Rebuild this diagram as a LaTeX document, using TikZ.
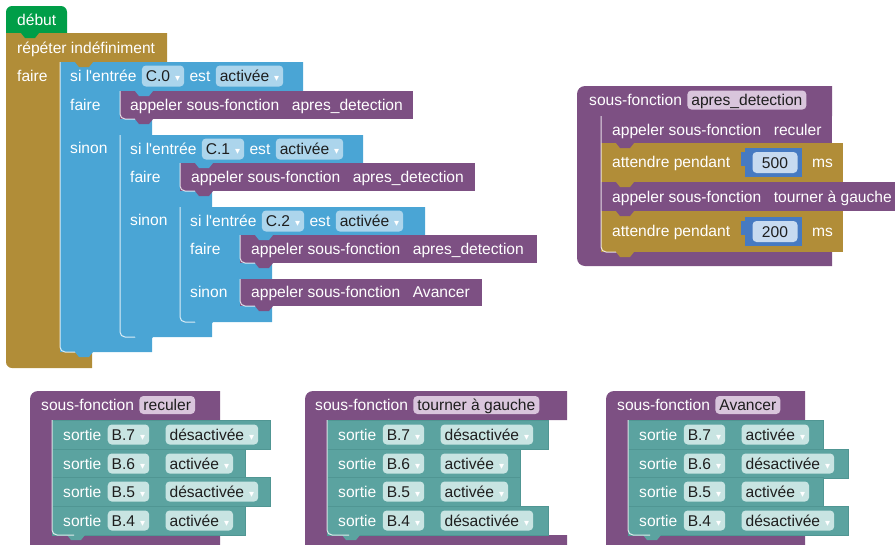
\documentclass[tikz,border=0pt]{standalone}
\usepackage{fontspec}
\setmainfont{Liberation Sans}
\newfontfamily\symfont{DejaVu Sans}
\usetikzlibrary{positioning}

\definecolor{debutgreen}{RGB}{0,158,72}
\definecolor{loopgold}{RGB}{177,141,56}
\definecolor{ifblue}{RGB}{74,165,213}
\definecolor{ifbluefield}{RGB}{172,213,236}
\definecolor{procpurple}{RGB}{125,80,131}
\definecolor{procfield}{RGB}{217,197,220}
\definecolor{outteal}{RGB}{91,163,160}
\definecolor{outtealfield}{RGB}{200,228,226}
\definecolor{tealedge}{RGB}{80,150,147}
\definecolor{numblue}{RGB}{70,122,194}
\definecolor{numfield}{RGB}{199,218,240}
\definecolor{fieldtext}{RGB}{30,30,30}

\newcommand\blkfont{\fontsize{15.6}{18}\selectfont}
\newcommand\dd{\hspace{5pt}{\symfont\fontsize{10}{10}\selectfont\color{white}▾}}
% little tab under a block, #1 = left of the block, #2 = its bottom
\newcommand\tabat[3]{\fill[#3] (#1+15,#2-1) -- (#1+15,#2) -- (#1+19,#2+5) -- (#1+29,#2+5) -- (#1+33,#2) -- (#1+33,#2-1) -- cycle;}

\begin{document}
\begin{tikzpicture}[x=1pt, y=-1pt,
    lbl/.style={anchor=west, inner sep=0pt, text height=13pt, text depth=2pt, text=white, font=\blkfont},
    fld/.style={anchor=west, inner xsep=4pt, inner ysep=3pt, text height=13pt, text depth=2pt, rounded corners=4pt, text=fieldtext, font=\blkfont},
    hl/.style={draw=white, draw opacity=0.8, line width=1pt, rounded corners=5pt},
  ]
  \path[use as bounding box, clip] (0,0) rectangle (895,544);

  % main program
  \fill[debutgreen] (6,33) [rounded corners=6pt] -- (6,6) -- (67,6) [sharp corners] -- (67,33) -- cycle;
  \fill[loopgold] (6,33) -- (167,33) -- (167,62) -- (60,62) -- (60,352) -- (92,352) -- (92,368) [rounded corners=6pt] -- (6,368) [sharp corners] -- cycle;
  \fill[ifblue] (60,62) -- (303,62) -- (303,91) -- (120,91) -- (120,119) -- (152,119) -- (152,135) -- (120,135) -- (120,337) -- (152,337) -- (152,352) -- (60,352) -- cycle;
  \fill[procpurple] (120,91) rectangle (413,119);
  \fill[ifblue] (120,135) -- (363,135) -- (363,163) -- (180,163) -- (180,191) -- (212,191) -- (212,207) -- (180,207) -- (180,322) -- (212,322) -- (212,337) -- (120,337) -- cycle;
  \fill[procpurple] (180,163) rectangle (475,191);
  \fill[ifblue] (180,207) -- (425,207) -- (425,235) -- (240,235) -- (240,263) -- (272,263) -- (272,279) -- (240,279) -- (240,306) -- (272,306) -- (272,322) -- (180,322) -- cycle;
  \fill[procpurple] (240,235) rectangle (537,263);
  \fill[procpurple] (240,279) rectangle (482,306);

  \draw[hl] (60,62) -- (60,352) -- (82,352);
  \draw[hl] (120,91) -- (120,119) -- (142,119);
  \draw[hl] (120,135) -- (120,337) -- (142,337);
  \draw[hl] (180,163) -- (180,191) -- (202,191);
  \draw[hl] (180,207) -- (180,322) -- (202,322);
  \draw[hl] (240,235) -- (240,263) -- (262,263);
  \draw[hl] (240,279) -- (240,306) -- (262,306);

  \tabat{6}{33}{debutgreen}
  \tabat{60}{62}{loopgold}
  \tabat{120}{91}{ifblue}
  \tabat{120}{119}{procpurple}
  \tabat{180}{163}{ifblue}
  \tabat{180}{191}{procpurple}
  \tabat{240}{235}{ifblue}
  \tabat{240}{263}{procpurple}
  \tabat{240}{306}{procpurple}
  \tabat{180}{322}{ifblue}
  \tabat{120}{337}{ifblue}
  \tabat{60}{352}{ifblue}

  \node[lbl] (debut) at (17,20) {début};
  \node[lbl] (repeter) at (17,48) {répéter indéfiniment};
  \node[lbl] (faire0) at (17,76) {faire};

  \node[lbl] (si1) at (70,76) {si l\textquotesingle entrée};
  \node[fld, fill=ifbluefield, right=5pt of si1] (c0) {C.0\dd};
  \node[lbl, right=5pt of c0] (est1) {est};
  \node[fld, fill=ifbluefield, right=5pt of est1] (act1) {activée\dd};
  \node[lbl] (faire1) at (70,105) {faire};
  \node[lbl] (sinon1) at (70,148) {sinon};
  \node[lbl] (call1) at (130,105) {appeler sous-fonction\hspace{12.5pt}apres\_detection};

  \node[lbl] (si2) at (130,149) {si l\textquotesingle entrée};
  \node[fld, fill=ifbluefield, right=5pt of si2] (c1) {C.1\dd};
  \node[lbl, right=5pt of c1] (est2) {est};
  \node[fld, fill=ifbluefield, right=5pt of est2] (act2) {activée\dd};
  \node[lbl] (faire2) at (130,177) {faire};
  \node[lbl] (sinon2) at (130,220) {sinon};
  \node[lbl] (call2) at (191,177) {appeler sous-fonction\hspace{12.5pt}apres\_detection};

  \node[lbl] (si3) at (190,221) {si l\textquotesingle entrée};
  \node[fld, fill=ifbluefield, right=5pt of si3] (c2) {C.2\dd};
  \node[lbl, right=5pt of c2] (est3) {est};
  \node[fld, fill=ifbluefield, right=5pt of est3] (act3) {activée\dd};
  \node[lbl] (faire3) at (190,249) {faire};
  \node[lbl] (sinon3) at (190,292) {sinon};
  \node[lbl] (call3) at (251,249) {appeler sous-fonction\hspace{12.5pt}apres\_detection};
  \node[lbl] (call4) at (251,292) {appeler sous-fonction\hspace{12.5pt}Avancer};

  % sous-fonction apres_detection
  \fill[procpurple] (832,86) -- (832,116) -- (601,116) -- (601,252) -- (832,252) -- (832,266) [rounded corners=8pt] -- (577,266) -- (577,86) [sharp corners] -- cycle;
  \fill[procpurple] (601,116) rectangle (832,143);
  \fill[loopgold] (601,143) rectangle (843,182);
  \fill[procpurple] (601,182) rectangle (900,211);
  \fill[loopgold] (601,211) rectangle (843,252);
  \fill[numblue] (745,148) rectangle (802,177);
  \fill[numblue] (741,152) rectangle (746,166);
  \fill[numblue] (745,217) rectangle (802,246);
  \fill[numblue] (741,221) rectangle (746,235);
  \draw[hl] (601,116) -- (601,252) -- (623,252);
  \tabat{601}{143}{procpurple}
  \tabat{601}{182}{loopgold}
  \tabat{601}{211}{procpurple}
  \tabat{601}{252}{loopgold}

  \node[lbl] (sfA) at (589,100) {sous-fonction};
  \node[fld, fill=procfield, inner ysep=2pt, right=5pt of sfA] (sfAname) {apres\_detection};
  \node[lbl] (callR) at (612,130) {appeler sous-fonction\hspace{12.5pt}reculer};
  \node[lbl] (waitA) at (612,162) {attendre pendant};
  \node[fld, fill=numfield, anchor=center, minimum width=45pt] (numA) at (775,162.5) {500};
  \node[lbl] (msA) at (812,162) {ms};
  \node[lbl] (callT) at (612,197) {appeler sous-fonction\hspace{12.5pt}tourner à gauche};
  \node[lbl] (waitB) at (612,231) {attendre pendant};
  \node[fld, fill=numfield, anchor=center, minimum width=45pt] (numB) at (775,231.5) {200};
  \node[lbl] (msB) at (812,231) {ms};

  % sous-fonction reculer
  \fill[procpurple] (220,391) -- (220,420) -- (52,420) -- (52,535) -- (220,535) -- (220,550) -- (30,550) [rounded corners=8pt] -- (30,391) [sharp corners] -- cycle;
  \node[lbl] (sfR) at (41,405) {sous-fonction};
  \node[fld, fill=procfield, inner ysep=1.5pt, right=5pt of sfR] (sfRname) {reculer};
  \foreach \rowy/\bit/\val/\rr in {420/7/désactivée/270, 449/6/activée/245, 477/5/désactivée/270, 506/4/activée/245}{
    \fill[outteal, draw=tealedge, line width=0.4pt] (52,\rowy) rectangle (\rr,\rowy+29);
    \tabat{52}{\rowy+29}{outteal}
    \node[lbl] (rcS\bit) at (63,\rowy+14.5) {sortie};
    \node[fld, fill=outtealfield, inner ysep=2.5pt, right=6pt of rcS\bit] (rcB\bit) {B.\bit\dd};
    \node[fld, fill=outtealfield, inner ysep=2.5pt, right=16pt of rcB\bit] (rcV\bit) {\val\dd};
  }
  \draw[hl] (52,420) -- (52,535) -- (74,535);

  % sous-fonction tourner a gauche
  \fill[procpurple] (567,391) -- (567,420) -- (327,420) -- (327,535) -- (567,535) -- (567,550) -- (305,550) [rounded corners=8pt] -- (305,391) [sharp corners] -- cycle;
  \node[lbl] (sfT) at (315,405) {sous-fonction};
  \node[fld, fill=procfield, inner ysep=1.5pt, right=5pt of sfT] (sfTname) {tourner à gauche};
  \foreach \rowy/\bit/\val/\rr in {420/7/désactivée/548, 449/6/activée/520, 477/5/activée/520, 506/4/désactivée/548}{
    \fill[outteal, draw=tealedge, line width=0.4pt] (327,\rowy) rectangle (\rr,\rowy+29);
    \tabat{327}{\rowy+29}{outteal}
    \node[lbl] (tgS\bit) at (338,\rowy+14.5) {sortie};
    \node[fld, fill=outtealfield, inner ysep=2.5pt, right=6pt of tgS\bit] (tgB\bit) {B.\bit\dd};
    \node[fld, fill=outtealfield, inner ysep=2.5pt, right=16pt of tgB\bit] (tgV\bit) {\val\dd};
  }
  \draw[hl] (327,420) -- (327,535) -- (349,535);

  % sous-fonction Avancer
  \fill[procpurple] (805,391) -- (805,420) -- (628,420) -- (628,535) -- (805,535) -- (805,550) -- (606,550) [rounded corners=8pt] -- (606,391) [sharp corners] -- cycle;
  \node[lbl] (sfV) at (617,405) {sous-fonction};
  \node[fld, fill=procfield, inner ysep=1.5pt, right=5pt of sfV] (sfVname) {Avancer};
  \foreach \rowy/\bit/\val/\rr in {420/7/activée/823, 449/6/désactivée/848, 477/5/activée/823, 506/4/désactivée/848}{
    \fill[outteal, draw=tealedge, line width=0.4pt] (628,\rowy) rectangle (\rr,\rowy+29);
    \tabat{628}{\rowy+29}{outteal}
    \node[lbl] (avS\bit) at (639,\rowy+14.5) {sortie};
    \node[fld, fill=outtealfield, inner ysep=2.5pt, right=6pt of avS\bit] (avB\bit) {B.\bit\dd};
    \node[fld, fill=outtealfield, inner ysep=2.5pt, right=16pt of avB\bit] (avV\bit) {\val\dd};
  }
  \draw[hl] (628,420) -- (628,535) -- (650,535);
\end{tikzpicture}
\end{document}
